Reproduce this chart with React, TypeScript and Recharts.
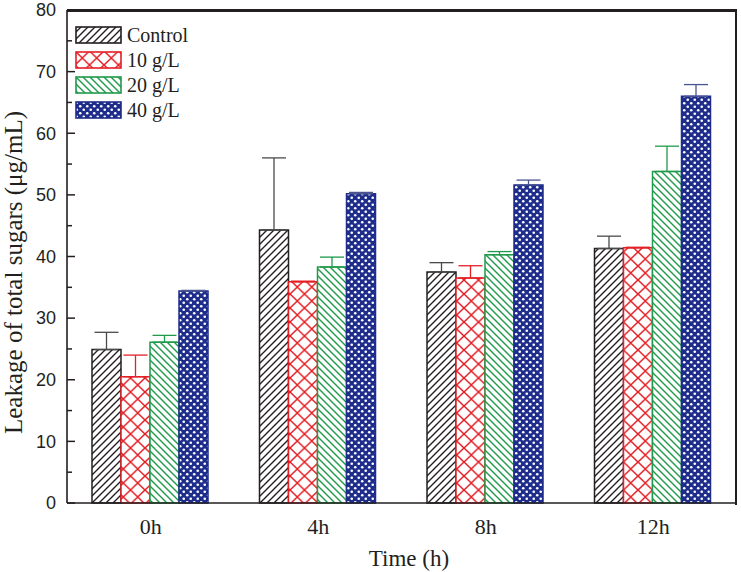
import { BarChart, Bar, XAxis, YAxis, ErrorBar, Label, CartesianGrid } from "recharts";

// time points
const times = ["0h", "4h", "8h", "12h"];

// leakage of total sugars (µg/mL)
const control = [24.9, 44.3, 37.5, 41.3];
const g10 = [20.5, 35.9, 36.5, 41.4];
const g20 = [26.1, 38.3, 40.3, 53.8];
const g40 = [34.4, 50.2, 51.6, 66.0];

// upper error (sd)
const controlErr = [2.8, 11.7, 1.5, 2.0];
const g10Err = [3.5, 0.1, 2.0, 0.1];
const g20Err = [1.1, 1.6, 0.5, 4.1];
const g40Err = [0.1, 0.2, 0.8, 1.9];

const yTicks = [0, 5, 10, 15, 20, 25, 30, 35, 40, 45, 50, 55, 60, 65, 70, 75, 80];

const series = [
  { key: "control", name: "Control", color: "#231F20", err: "#4a4a4a", fill: "url(#pat-control)" },
  { key: "g10", name: "10 g/L", color: "#E41F26", err: "#E41F26", fill: "url(#pat-g10)" },
  { key: "g20", name: "20 g/L", color: "#1F9A4A", err: "#1F9A4A", fill: "url(#pat-g20)" },
  { key: "g40", name: "40 g/L", color: "#1E2C8C", err: "#4a5590", fill: "url(#pat-g40)" },
];

const data = times.map((t, i) => ({
  time: t,
  control: control[i],
  g10: g10[i],
  g20: g20[i],
  g40: g40[i],
  controlErr: [0, controlErr[i]],
  g10Err: [0, g10Err[i]],
  g20Err: [0, g20Err[i]],
  g40Err: [0, g40Err[i]],
}));

const SERIF = '"Liberation Serif", "Times New Roman", serif';
const SANS = '"Liberation Sans", Arial, sans-serif';
const INK = "#231F20";
const W = 741;
const H = 572;
const MARGIN = { top: 10, right: 4, bottom: 0, left: 0 };
const Y_AXIS_W = 67;
const X_AXIS_H = 69;
const PLOT_W = W - MARGIN.left - MARGIN.right - Y_AXIS_W;
const PLOT_H = H - MARGIN.top - MARGIN.bottom - X_AXIS_H;

function Patterns() {
  return (
    <svg width={0} height={0} style={{ position: "absolute" }}>
      <defs>
        <pattern id="pat-control" width={7} height={7} patternUnits="userSpaceOnUse">
          <rect width={7} height={7} fill="#fff" />
          <path d="M0,7 L7,0 M-1,1 L1,-1 M6,8 L8,6" stroke="#231F20" strokeWidth={1.4} />
        </pattern>
        <pattern id="pat-g10" width={14.5} height={14} patternUnits="userSpaceOnUse">
          <rect width={14.5} height={14} fill="#fff" />
          <path d="M0,0 L14.5,14 M0,14 L14.5,0" stroke="#E41F26" strokeWidth={1.5} />
        </pattern>
        <pattern id="pat-g20" width={7} height={7} patternUnits="userSpaceOnUse">
          <rect width={7} height={7} fill="#fff" />
          <path d="M0,0 L7,7 M-1,6 L1,8 M6,-1 L8,1" stroke="#1F9A4A" strokeWidth={1.4} />
        </pattern>
        <pattern id="pat-g40" width={7} height={7} patternUnits="userSpaceOnUse">
          <rect width={7} height={7} fill="#1E2C8C" />
          <circle cx={1.75} cy={1.75} r={1.3} fill="#fff" />
          <circle cx={5.25} cy={5.25} r={1.3} fill="#fff" />
        </pattern>
      </defs>
    </svg>
  );
}

// y ticks: long major / short minor ticks pointing inward
const YTick = (props: any) => {
  const { x, y, payload } = props;
  const major = payload.value % 10 === 0;
  const ax = x + 11;
  return (
    <g>
      <line x1={ax} x2={ax + (major ? 8 : 5)} y1={y} y2={y} stroke={INK} strokeWidth={1.5} />
      {payload.value === 80 && (
        <line x1={ax} x2={ax + PLOT_W} y1={y + 0.5} y2={y + 0.5} stroke={INK} strokeWidth={2} />
      )}
      {payload.value === 0 && (
        <line
          x1={ax + PLOT_W - 1}
          x2={ax + PLOT_W - 1}
          y1={y}
          y2={y - PLOT_H}
          stroke={INK}
          strokeWidth={2}
        />
      )}
      {major && (
        <text x={x} y={y} dy="0.35em" textAnchor="end" fontSize={18} fill={INK} fontFamily={SANS}>
          {payload.value}
        </text>
      )}
    </g>
  );
};

// rotated y label, a bit lower than the axis centre like the original
const YLabel = (props: any) => {
  const vb = props.viewBox || { x: 0, y: 0, width: 0, height: 0 };
  const cx = vb.x + 13;
  const cy = vb.y + vb.height / 2 + 16;
  return (
    <text
      x={cx}
      y={cy}
      transform={`rotate(-90, ${cx}, ${cy})`}
      textAnchor="middle"
      dominantBaseline="central"
      fontSize={25}
      fill={INK}
      fontFamily={SERIF}
    >
      Leakage of total sugars (μg/mL)
    </text>
  );
};

const XLabel = (props: any) => {
  const vb = props.viewBox || { x: 0, y: 0, width: 0, height: 0 };
  return (
    <text
      x={vb.x + vb.width / 2 + 7}
      y={vb.y + vb.height - 14}
      textAnchor="middle"
      dominantBaseline="central"
      fontSize={23}
      fill={INK}
      fontFamily={SERIF}
    >
      Time (h)
    </text>
  );
};

// top and right edges of the plot box (css)
function Frame() {
  return (
    <div
      style={{
        position: "absolute",
        left: MARGIN.left + Y_AXIS_W,
        top: MARGIN.top,
        width: PLOT_W - 2,
        height: PLOT_H,
        borderTop: `2px solid ${INK}`,
        borderRight: `2px solid ${INK}`,
        boxSizing: "content-box",
        pointerEvents: "none",
        zIndex: 5,
      }}
    />
  );
}

function LegendBox() {
  return (
    <div style={{ position: "absolute", left: 75, top: 23, zIndex: 6 }}>
      {series.map((s) => (
        <div key={s.key} style={{ display: "flex", alignItems: "center", height: 25 }}>
          <svg width={48} height={19}>
            <rect x={1} y={1} width={45} height={16} fill={s.fill} stroke={s.color} strokeWidth={1.6} />
          </svg>
          <span style={{ fontFamily: SERIF, fontSize: 20, color: INK, marginLeft: 4 }}>{s.name}</span>
        </div>
      ))}
    </div>
  );
}

export default function App() {
  return (
    <div style={{ position: "absolute", left: 0, top: 0, width: W, height: H, background: "#fff" }}>
      <Patterns />
      <BarChart
        width={W}
        height={H}
        data={data}
        margin={MARGIN}
        barCategoryGap={25}
        barGap={0}
      >
        <CartesianGrid
          horizontal={true}
          vertical={true}
          horizontalValues={[80]}
          verticalCoordinatesGenerator={(p: any) => [p.offset.left + p.offset.width - 1]}
          stroke={INK}
          strokeWidth={2}
        />
        <XAxis
          dataKey="time"
          height={X_AXIS_H}
          tickLine={false}
          tickSize={0}
          tickMargin={15}
          axisLine={{ stroke: INK, strokeWidth: 1.6 }}
          tick={{ fill: INK, fontSize: 22, fontFamily: SERIF }}
        >
          <Label content={<XLabel />} />
        </XAxis>
        <YAxis
          width={Y_AXIS_W}
          domain={[0, 80]}
          ticks={yTicks}
          interval={0}
          tickLine={false}
          tickSize={0}
          tickMargin={11}
          tick={<YTick />}
          axisLine={{ stroke: INK, strokeWidth: 1.6 }}
        >
          <Label content={<YLabel />} />
        </YAxis>
        {series.map((s) => (
          <Bar
            key={s.key}
            dataKey={s.key}
            name={s.name}
            fill={s.fill}
            stroke={s.color}
            strokeWidth={1.5}
            isAnimationActive={false}
          >
            <ErrorBar
              dataKey={s.key + "Err"}
              direction="y"
              width={12}
              stroke={s.err}
              strokeWidth={1.3}
            />
          </Bar>
        ))}
      </BarChart>
      <Frame />
      <LegendBox />
    </div>
  );
}
